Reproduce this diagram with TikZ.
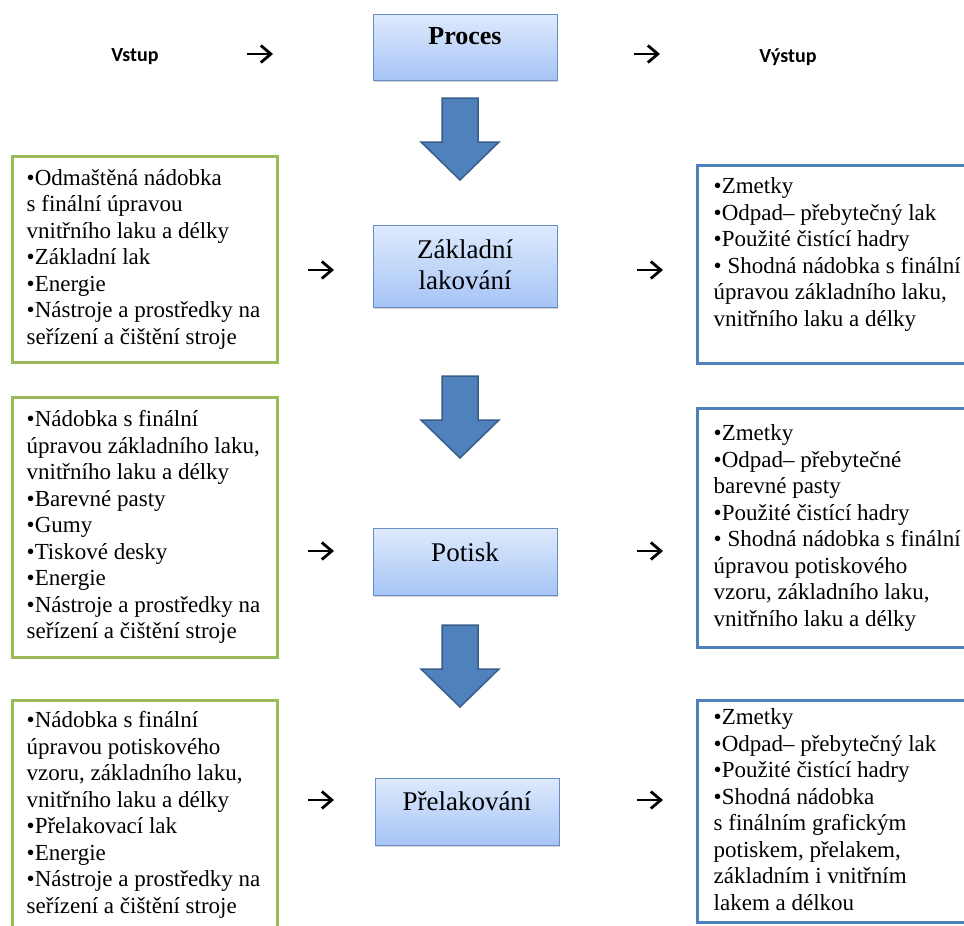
\documentclass[tikz,border=0pt]{standalone}
\usepackage{fontspec}
\setmainfont{Liberation Serif}
\newfontfamily\patkove{Liberation Serif}
\newfontfamily\hlavfont{Carlito}
\usepackage{xcolor}
\definecolor{zelena}{RGB}{155,187,89}
\definecolor{modra}{RGB}{79,129,189}
\definecolor{modraokraj}{RGB}{105,142,198}
\definecolor{krokhore}{RGB}{222,234,252}
\definecolor{krokdole}{RGB}{166,196,246}
\definecolor{sipka}{RGB}{79,129,189}
\definecolor{sipkaokraj}{RGB}{56,93,138}
\usetikzlibrary{positioning,shadows,arrows.meta}

\begin{document}
\begin{tikzpicture}[x=1pt,y=-1pt,
    vstup/.style={draw=zelena,line width=3pt,minimum width=265pt},
    vystup/.style={draw=modra,line width=3pt,minimum width=283pt},
    krok/.style={draw=modraokraj,line width=1pt,top color=krokhore,
                 bottom color=krokdole,minimum width=184pt,
                 drop shadow={shadow xshift=1pt,shadow yshift=-2pt,opacity=0.35}},
    seznam/.style={align=left,inner sep=0pt,font=\patkove\fontsize{23}{26.5}\selectfont},
    kroktext/.style={align=center,inner sep=0pt,font=\patkove\fontsize{27}{31}\selectfont},
    hlavicka/.style={font=\hlavfont\bfseries\fontsize{20}{22}\selectfont},
    pil/.style={minimum size=26pt,inner sep=0pt,
                path picture={\draw[line width=2.8pt,
                  -{Straight Barb[length=10pt,width=17pt,line width=2.8pt]}]
                  (path picture bounding box.west) -- (path picture bounding box.east);}},
    blok/.style={fill=sipka,draw=sipkaokraj,line width=1.5pt,line join=miter},
  ]
    \useasboundingbox (0,0) rectangle (964,926);
    \clip (0,0) rectangle (964,926);

    % Header
    \node[hlavicka] (vstup)  at (135,57) {Vstup};
    \node[hlavicka] (vystup) at (788,57) {Výstup};
    \node[krok,minimum height=66pt] (proces) at (465,47) {};
    \node[kroktext,anchor=base,font=\patkove\bfseries\fontsize{26}{30}\selectfont] (proces-t)
      at ([yshift=-31pt]proces.north) {Proces};
    \node[pil] (p0a) at (260,54) {};
    \node[pil] (p0b) at (647,54) {};

    % Process steps
    \node[krok,minimum height=82pt] (zakl) at (465,266) {};
    \node[kroktext,below=15pt of zakl.north] (zakl-t) {Základní\\lakování};
    \node[krok,minimum height=67pt] (potisk) at (465,561.5) {};
    \node[kroktext,anchor=base] (potisk-t) at ([yshift=-34pt]potisk.north) {Potisk};
    \node[krok,minimum height=67pt] (prelak) at (467,811.5) {};
    \node[kroktext,anchor=base] (prelak-t) at ([yshift=-33pt]prelak.north) {Přelakování};

    % Block arrows
    \foreach \t in {98,376,625}
      \filldraw[blok] (442,\t) -- (478,\t) -- (478,\t+44) -- (499,\t+44)
        -- (460,\t+82) -- (421,\t+44) -- (442,\t+44) -- cycle;

    % Inputs
    \node[vstup,minimum height=206pt] (in1) at (144.5,259) {};
    \node[seznam,right=16pt of in1.west] (in1-t)
      {•Odmaštěná nádobka\\s finální úpravou\\vnitřního laku a délky\\•Základní lak\\
       •Energie\\•Nástroje a prostředky na\\seřízení a čištění stroje};
    \node[vstup,minimum height=260pt] (in2) at (144.5,527) {};
    \node[seznam,right=16pt of in2.west] (in2-t)
      {•Nádobka s finální\\úpravou základního laku,\\vnitřního laku a délky\\
       •Barevné pasty\\•Gumy\\•Tiskové desky\\•Energie\\
       •Nástroje a prostředky na\\seřízení a čištění stroje};
    \node[vstup,minimum height=230pt] (in3) at (144.5,815) {};
    \node[seznam,right=16pt of in3.west] (in3-t)
      {•Nádobka s finální\\úpravou potiskového\\vzoru, základního laku,\\
       vnitřního laku a délky\\•Přelakovací lak\\•Energie\\
       •Nástroje a prostředky na\\seřízení a čištění stroje};

    % Outputs
    \node[vystup,minimum height=198pt] (out1) at (838.5,264) {};
    \node[seznam,anchor=north west] (out1-t) at ([xshift=18pt,yshift=-14pt]out1.north west)
      {•Zmetky\\•Odpad– přebytečný lak\\•Použité čistící hadry\\
       • Shodná nádobka s finální\\úpravou základního laku,\\vnitřního laku a délky};
    \node[vystup,minimum height=239pt] (out2) at (838.5,527.5) {};
    \node[seznam,anchor=north west] (out2-t) at ([xshift=18pt,yshift=-18pt]out2.north west)
      {•Zmetky\\•Odpad– přebytečné\\barevné pasty\\•Použité čistící hadry\\
       • Shodná nádobka s finální\\úpravou potiskového\\vzoru, základního laku,\\
       vnitřního laku a délky};
    \node[vystup,minimum height=222pt] (out3) at (838.5,811) {};
    \node[seznam,anchor=north west] (out3-t) at ([xshift=18pt,yshift=-10pt]out3.north west)
      {•Zmetky\\•Odpad– přebytečný lak\\•Použité čistící hadry\\•Shodná nádobka\\
       s finálním grafickým\\potiskem, přelakem,\\základním i vnitřním\\lakem a délkou};

    % Small arrows
    \node[pil] (p1a) at (321,270) {};
    \node[pil] (p1b) at (650,270) {};
    \node[pil] (p2a) at (321,551) {};
    \node[pil] (p2b) at (650,551) {};
    \node[pil] (p3a) at (321,800) {};
    \node[pil] (p3b) at (650,800) {};

  \end{tikzpicture}
\end{document}
